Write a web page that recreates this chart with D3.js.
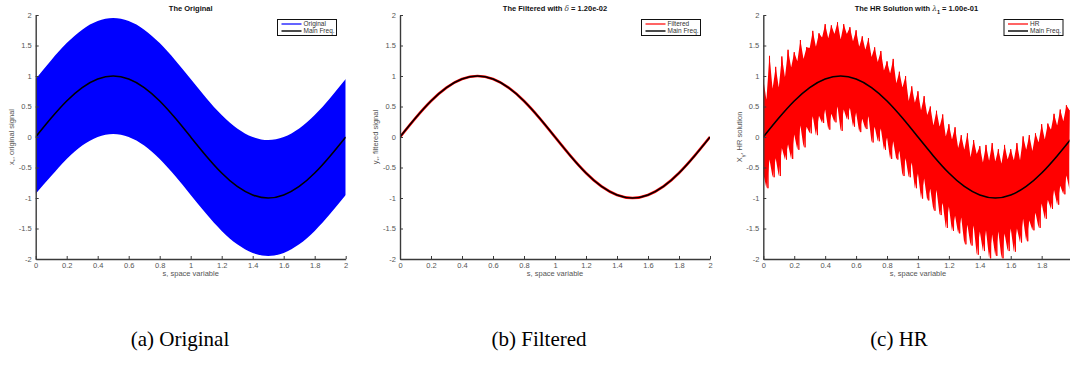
<!DOCTYPE html>
<html>
<head>
<meta charset="utf-8">
<script src="https://cdn.jsdelivr.net/npm/d3@7"></script>
<style>
body { margin:0; background:#fff; }
svg { display:block; }
</style>
</head>
<body>
<svg id="fig" width="1070" height="366"></svg>
<script>
// s positions for the smooth curves
var sCoarse = [0,0.1,0.2,0.3,0.4,0.5,0.6,0.7,0.8,0.9,1.0,1.1,1.2,1.3,1.4,1.5,1.6,1.7,1.8,1.9,2.0];

var mainFreq = [0,0.31,0.59,0.81,0.95,1,0.95,0.81,0.59,0.31,0,-0.31,-0.59,-0.81,-0.95,-1,-0.95,-0.81,-0.59,-0.31,0];

// envelope of the original (blue) signal
var origUpper = [0.95,1.26,1.54,1.76,1.90,1.95,1.90,1.76,1.54,1.26,0.95,0.64,0.36,0.14,0.00,-0.05,0.00,0.14,0.36,0.64,0.95];
var origLower = [-0.93,-0.64,-0.36,-0.14,0.00,0.05,0.00,-0.14,-0.36,-0.64,-0.95,-1.26,-1.54,-1.76,-1.90,-1.95,-1.90,-1.76,-1.54,-1.26,-0.95];

var filtered = [0,0.31,0.59,0.81,0.95,1,0.95,0.81,0.59,0.31,0,-0.31,-0.59,-0.81,-0.95,-1,-0.95,-0.81,-0.59,-0.31,0];

// HR solution, read as upper / lower spikes every 0.02
var hrS = d3.range(100).map(function(i){ return i*0.02; });
var hrUpper = [0.95,0.61,1.33,0.79,1.15,0.81,1.32,0.98,1.43,1.14,
	1.39,1.24,1.59,1.28,1.47,1.46,1.74,1.48,1.70,1.63,
	1.85,1.62,1.83,1.69,1.88,1.60,1.85,1.69,1.80,1.57,
	1.75,1.48,1.65,1.43,1.62,1.31,1.47,1.23,1.41,1.09,
	1.24,1.04,1.28,0.88,1.07,0.81,1.00,0.59,0.83,0.56,
	0.75,0.44,0.67,0.36,0.50,0.19,0.43,0.17,0.37,0.01,
	0.21,-0.04,0.16,-0.18,0.03,-0.21,0.06,-0.33,-0.05,-0.28,
	-0.15,-0.42,-0.13,-0.39,-0.10,-0.40,-0.20,-0.44,-0.13,-0.37,
	-0.20,-0.38,-0.10,-0.38,0.01,-0.21,0.03,-0.23,0.06,-0.09,
	0.21,-0.04,0.22,0.12,0.38,0.19,0.45,0.26,0.52,0.44];
var hrLower = [-0.60,-0.84,-0.37,-0.66,-0.35,-0.64,-0.18,-0.37,-0.12,-0.36,
	0.04,-0.21,0.19,-0.17,0.17,0.06,0.34,0.03,0.35,0.23,
	0.45,0.12,0.38,0.24,0.50,0.10,0.45,0.29,0.48,0.17,
	0.40,0.08,0.30,0.13,0.34,-0.09,0.17,-0.07,0.14,-0.21,
	-0.01,-0.36,-0.07,-0.37,-0.23,-0.64,-0.35,-0.66,-0.42,-0.84,
	-0.60,-1.01,-0.68,-1.04,-0.85,-1.21,-0.87,-1.28,-1.08,-1.49,
	-1.14,-1.54,-1.29,-1.58,-1.32,-1.76,-1.44,-1.78,-1.45,-1.93,
	-1.55,-1.87,-1.53,-1.99,-1.60,-1.95,-1.55,-1.99,-1.58,-1.87,
	-1.50,-1.88,-1.50,-1.73,-1.34,-1.71,-1.37,-1.53,-1.24,-1.49,
	-1.09,-1.34,-1.03,-1.18,-0.87,-1.11,-0.80,-0.94,-0.63,-0.86];

var xTicks = [0,0.2,0.4,0.6,0.8,1,1.2,1.4,1.6,1.8,2];
var yTicks = [-2,-1.5,-1,-0.5,0,0.5,1,1.5,2];

var svg = d3.select('#fig');
var sans = '"Liberation Sans", Arial, sans-serif';
var axisCol = '#3a3a3a';
var labCol = '#555';

var plotTop = 15, plotBottom = 259;

function makePanel(id, x0, x1, sMax) {
	var x = d3.scaleLinear().domain([0, sMax]).range([x0, x1]);
	var y = d3.scaleLinear().domain([-2, 2]).range([plotBottom, plotTop]);
	var g = svg.append('g');
	svg.append('clipPath').attr('id', id)
		.append('rect').attr('x', x0).attr('y', plotTop - 2).attr('width', x1 - x0).attr('height', plotBottom - plotTop + 2);
	var plot = g.append('g').attr('clip-path', 'url(#' + id + ')');
	return {x: x, y: y, g: g, plot: plot, x0: x0, x1: x1};
}

function drawAxes(p, ticks) {
	var fmt = function(d){ return String(d); };
	var ax = p.g.append('g')
		.attr('transform', 'translate(0,' + plotBottom + ')')
		.call(d3.axisBottom(p.x).tickValues(ticks).tickFormat(fmt).tickSizeInner(-3).tickSizeOuter(0).tickPadding(4));
	var ay = p.g.append('g')
		.attr('transform', 'translate(' + p.x0 + ',0)')
		.call(d3.axisLeft(p.y).tickValues(yTicks).tickFormat(fmt).tickSizeInner(-3).tickSizeOuter(0).tickPadding(4));
	[ax, ay].forEach(function(a){
		a.select('.domain').attr('stroke', axisCol).attr('stroke-width', 1.4);
		a.selectAll('.tick line').attr('stroke', axisCol).attr('stroke-width', 1);
		a.selectAll('.tick text').attr('fill', labCol).style('font-family', sans).style('font-size', '7.5px');
	});
	p.g.append('text')
		.attr('x', (p.x(0) + p.x(2)) / 2)
		.attr('y', 276)
		.attr('text-anchor', 'middle')
		.attr('fill', labCol)
		.style('font-family', sans).style('font-size', '7.5px')
		.text('s, space variable');
}

function yLabel(p, xpos, main, sub, rest) {
	var t = p.g.append('text')
		.attr('transform', 'translate(' + xpos + ',' + 137 + ') rotate(-90)')
		.attr('text-anchor', 'middle')
		.attr('fill', labCol)
		.style('font-family', sans).style('font-size', '7.5px');
	t.append('tspan').text(main);
	t.append('tspan').attr('baseline-shift', 'sub').style('font-size', '5.5px').text(sub);
	t.append('tspan').text(rest);
}

function title(p, parts) {
	var t = p.g.append('text')
		.attr('x', (p.x0 + p.x1) / 2).attr('y', 11)
		.attr('text-anchor', 'middle')
		.attr('fill', '#111')
		.style('font-family', sans).style('font-size', '7.5px').style('font-weight', 'bold');
	parts.forEach(function(d){
		var s = t.append('tspan').text(d.t);
		if (d.greek) s.style('font-family', '"DejaVu Serif", serif').style('font-style', 'italic').style('font-weight', 'normal').attr('fill', '#444');
		if (d.sub) s.attr('baseline-shift', 'sub').style('font-size', '5.5px');
	});
}

function legend(p, bx, items) {
	var lg = p.g.append('g');
	lg.append('rect').attr('x', bx).attr('y', 19.5).attr('width', 59).attr('height', 16)
		.attr('fill', '#fff').attr('stroke', '#111').attr('stroke-width', 1);
	items.forEach(function(d, i){
		var yy = 24 + i * 7;
		lg.append('line').attr('x1', bx + 4).attr('x2', bx + 24).attr('y1', yy).attr('y2', yy)
			.attr('stroke', d.c).attr('stroke-width', 1.5);
		lg.append('text').attr('x', bx + 26).attr('y', yy + 2.2)
			.attr('fill', '#333')
			.style('font-family', sans).style('font-size', '6.5px')
			.text(d.t);
	});
}

// ---- (a) original
var pa = makePanel('clipa', 35.7, 345.7, 2);
var areaA = d3.area()
	.x(function(d, i){ return pa.x(sCoarse[i]); })
	.y0(function(d, i){ return pa.y(origLower[i]); })
	.y1(function(d){ return pa.y(d); })
	.curve(d3.curveNatural);
pa.plot.append('path').datum(origUpper).attr('d', areaA).attr('fill', '#0000ff');
var lineA = d3.line()
	.x(function(d, i){ return pa.x(sCoarse[i]); })
	.y(function(d){ return pa.y(d); })
	.curve(d3.curveNatural);
pa.plot.append('path').datum(mainFreq).attr('d', lineA).attr('fill', 'none').attr('stroke', '#000').attr('stroke-width', 1.6);
drawAxes(pa, xTicks);
yLabel(pa, 14, 'x', '*', ', original signal');
title(pa, [{t: 'The Original'}]);
legend(pa, 277.5, [{t: 'Original', c: '#3030ff'}, {t: 'Main Freq.', c: '#111'}]);

// ---- (b) filtered
var pb = makePanel('clipb', 400, 710, 2);
var lineB = d3.line()
	.x(function(d, i){ return pb.x(sCoarse[i]); })
	.y(function(d){ return pb.y(d); })
	.curve(d3.curveNatural);
pb.plot.append('path').datum(filtered).attr('d', lineB).attr('fill', 'none').attr('stroke', '#ff0000').attr('stroke-width', 2.6);
pb.plot.append('path').datum(mainFreq).attr('d', lineB).attr('fill', 'none').attr('stroke', '#000').attr('stroke-width', 1.5);
drawAxes(pb, xTicks);
yLabel(pb, 378, 'y', '*', ', filtered signal');
title(pb, [{t: 'The Filtered with '}, {t: 'δ', greek: true}, {t: ' = 1.20e-02'}]);
legend(pb, 641.5, [{t: 'Filtered', c: '#ff3030'}, {t: 'Main Freq.', c: '#111'}]);

// ---- (c) HR solution
var pc = makePanel('clipc', 763.3, 1069.5, 1.98);
var areaC = d3.area()
	.x(function(d, i){ return pc.x(hrS[i]); })
	.y0(function(d, i){ return pc.y(hrLower[i]); })
	.y1(function(d){ return pc.y(d); });
pc.plot.append('path').datum(hrUpper).attr('d', areaC).attr('fill', '#ff0000');
// zigzag between the spikes, gives the noisy streaks
var zig = [];
hrS.forEach(function(s, i){
	zig.push([pc.x(s), pc.y(hrUpper[i])]);
	zig.push([pc.x(s + 0.01), pc.y(hrLower[i])]);
});
pc.plot.append('path').attr('d', d3.line()(zig)).attr('fill', 'none').attr('stroke', '#ff0000').attr('stroke-width', 1);
var lineC = d3.line()
	.x(function(d, i){ return pc.x(sCoarse[i]); })
	.y(function(d){ return pc.y(d); })
	.curve(d3.curveNatural);
pc.plot.append('path').datum(mainFreq).attr('d', lineC).attr('fill', 'none').attr('stroke', '#000').attr('stroke-width', 1.6);
drawAxes(pc, xTicks.slice(0, 10));
yLabel(pc, 742, 'X', 'γ', ', HR solution');
title(pc, [{t: 'The HR Solution with '}, {t: 'λ', greek: true}, {t: '1', sub: true}, {t: ' = 1.00e-01'}]);
legend(pc, 1004, [{t: 'HR', c: '#ff3030'}, {t: 'Main Freq.', c: '#111'}]);

// ---- sub captions
var captions = ['(a) Original', '(b) Filtered', '(c) HR'];
var capX = [180, 539, 899];
svg.selectAll('text.cap').data(captions).enter().append('text')
	.attr('class', 'cap')
	.attr('x', function(d, i){ return capX[i]; })
	.attr('y', 346)
	.attr('text-anchor', 'middle')
	.attr('fill', '#000')
	.style('font-family', '"Liberation Serif", "Times New Roman", serif')
	.style('font-size', '21px')
	.text(function(d){ return d; });
</script>
</body>
</html>
